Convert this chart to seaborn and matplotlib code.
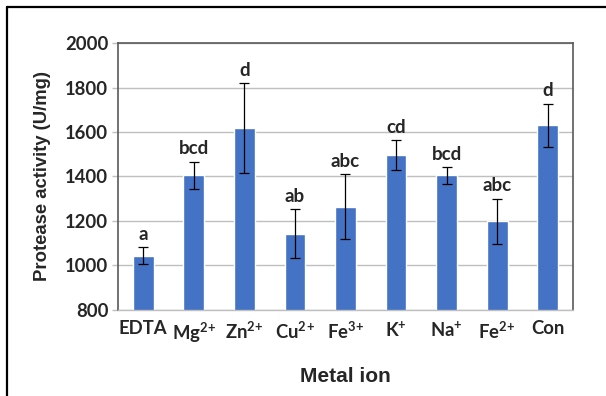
import matplotlib
matplotlib.use('Agg')
import matplotlib.pyplot as plt
from matplotlib.lines import Line2D
import seaborn as sns
import pandas as pd

ions = ['EDTA', 'Mg$^{2}$$^{+}$', 'Zn$^{2}$$^{+}$', 'Cu$^{2}$$^{+}$', 'Fe$^{3}$$^{+}$',
        'K$^{+}$', 'Na$^{+}$', 'Fe$^{2}$$^{+}$', 'Con']
activity = [1043, 1405, 1617, 1143, 1264, 1496, 1405, 1198, 1630]
sd = [38, 62, 201, 111, 146, 67, 39, 103, 98]
groups = ['a', 'bcd', 'd', 'ab', 'abc', 'cd', 'bcd', 'abc', 'd']


def main():
    sns.set_style('white')
    plt.rcParams['font.family'] = ['Lato', 'DejaVu Sans']
    plt.rcParams['mathtext.fontset'] = 'custom'
    plt.rcParams['mathtext.rm'] = 'Lato:bold'
    plt.rcParams['mathtext.bf'] = 'Lato:bold'
    plt.rcParams['mathtext.default'] = 'bf'

    df = pd.DataFrame({'ion': ions, 'activity': activity, 'sd': sd})

    fig = plt.figure(figsize=(6.06, 3.96), dpi=100)
    ax = fig.add_axes([0.1947, 0.2172, 0.7508, 0.6742])

    sns.barplot(data=df, x='ion', y='activity', color='#4472C4',
                saturation=1, width=0.41, errorbar=None, ax=ax, zorder=2)
    ax.errorbar(range(len(ions)), df['activity'], yerr=df['sd'], fmt='none',
                ecolor='black', elinewidth=0.9, capsize=3.5, capthick=0.9, zorder=3)

    for i, (v, e, g) in enumerate(zip(activity, sd, groups)):
        ax.annotate(g, (i, v + e), xytext=(0, 3), textcoords='offset points',
                    ha='center', va='bottom', fontsize=13.5, fontweight='bold')

    ax.set_ylim(800, 2000)
    ax.set_yticks(range(800, 2001, 200))
    ax.set_xlim(-0.5, len(ions) - 0.5)
    ax.yaxis.grid(True, color='#BFBFBF', linewidth=1)
    ax.set_axisbelow(True)
    for side in ['left', 'right', 'top']:
        ax.spines[side].set_color('#595959')
        ax.spines[side].set_linewidth(1.2)
    ax.spines['bottom'].set_color('#BFBFBF')
    ax.spines['bottom'].set_linewidth(1)

    ax.tick_params(axis='y', left=True, length=4, color='#BFBFBF', width=1, pad=3)
    ax.tick_params(axis='x', bottom=False, pad=4)
    for lab in ax.get_xticklabels() + ax.get_yticklabels():
        lab.set_fontsize(13.3)
        lab.set_fontweight('bold')

    ax.set_xlabel('Metal ion', fontsize=15, fontweight='bold',
                  family='Liberation Sans', labelpad=16)
    ax.set_ylabel('Protease activity (U/mg)', fontsize=13.3, fontweight='bold',
                  family='Liberation Sans', labelpad=10)

    # frame around the figure (only left and top edges fall inside the crop)
    fig.add_artist(Line2D([7 / 606, 7 / 606], [0, 1 - 7 / 396], color='black',
                          linewidth=1.6, transform=fig.transFigure))
    fig.add_artist(Line2D([7 / 606, 1], [1 - 7 / 396, 1 - 7 / 396], color='black',
                          linewidth=1.6, transform=fig.transFigure))

    fig.savefig('out.png', dpi=100)


if __name__ == '__main__':
    main()
